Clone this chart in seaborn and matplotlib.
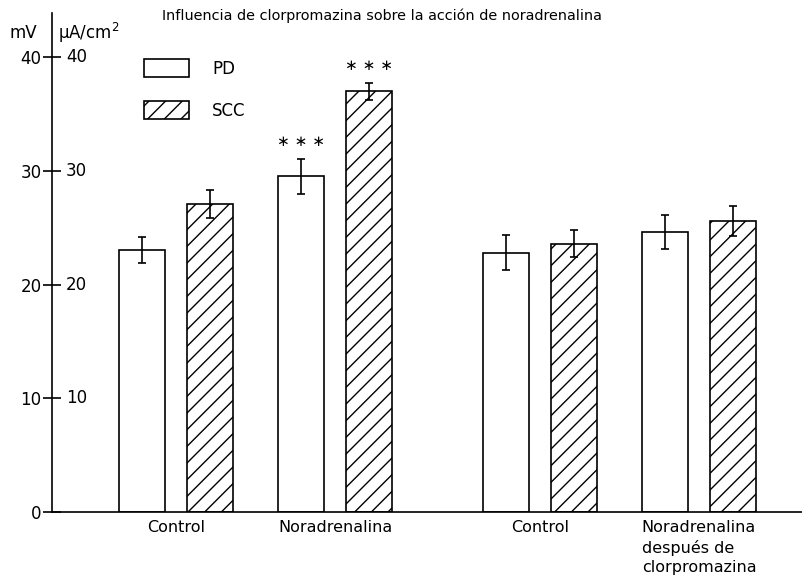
import matplotlib
matplotlib.use("Agg")
import matplotlib.pyplot as plt
import matplotlib.transforms as mtransforms
from matplotlib.patches import Patch
import pandas as pd
import seaborn as sns

sns.set_theme(style="ticks", rc={"text.color": "black", "xtick.color": "black",
                                 "ytick.color": "black", "axes.edgecolor": "black"})
plt.rcParams['font.family'] = ['DejaVu Sans']
plt.rcParams['hatch.linewidth'] = 1.0

# data
groups = ["Control", "Noradrenalina", "Control", "Noradrenalina\ndespués de\nclorpromazina"]
group_pos = [0, 1, 2.29, 3.29]
pd_mean = [23.0, 29.5, 22.8, 24.6]
pd_err = [1.15, 1.55, 1.55, 1.5]
scc_mean = [27.1, 37.0, 23.6, 25.6]
scc_err = [1.25, 0.75, 1.2, 1.3]
pd_sig = ["", "***", "", ""]
scc_sig = ["", "***", "", ""]
yticks = [0, 10, 20, 30, 40]
series = ["PD", "SCC"]

df = pd.DataFrame({
    "pos": group_pos * 2,
    "serie": [series[0]] * 4 + [series[1]] * 4,
    "valor": pd_mean + scc_mean,
})

fig = plt.figure(figsize=(8.03, 5.77), dpi=100)
ax = fig.add_axes([52 / 803, 65 / 577, 751 / 803, 499 / 577])

sns.barplot(data=df, x="pos", y="valor", hue="serie", native_scale=True,
            palette=["white", "white"], edgecolor="black", linewidth=1.2,
            width=0.86, gap=0.33, legend=False, errorbar=None, ax=ax)

# hatch the SCC bars, then error bars and stars on top of each bar
for i, (means, errs, sigs) in enumerate(zip([pd_mean, scc_mean], [pd_err, scc_err],
                                            [pd_sig, scc_sig])):
    cont = ax.containers[i]
    xs = [b.get_x() + b.get_width() / 2 for b in cont]
    if i == 1:
        for b in cont:
            b.set_hatch("//")
    ax.errorbar(xs, means, yerr=errs, fmt="none", ecolor="black",
                elinewidth=1.2, capsize=3, capthick=1.2)
    for x, m, e, s in zip(xs, means, errs, sigs):
        if s:
            ax.text(x, m + e + 1.5, " ".join(["\u2217"] * len(s)), ha="center",
                    va="center", fontsize=11, color="black")

ax.set_xlim(-0.78, 3.943)
ax.set_ylim(0, 43.87)
sns.despine(ax=ax)
for sp in ax.spines.values():
    sp.set_linewidth(1.2)

ax.set_xticks(group_pos)
ax.set_xticklabels(groups, fontsize=11.5, linespacing=1.35)
for lab in ax.get_xticklabels():
    lab.set_multialignment("left")
ax.tick_params(axis="x", length=0, pad=6)
ax.set_yticks(yticks)
ax.set_yticklabels([str(t) for t in yticks], fontsize=12)
ax.tick_params(axis="y", direction="inout", length=13, width=1.2, pad=1)
ax.set_xlabel("")
ax.set_ylabel("")

# second set of labels on the right side of the spine (µA/cm2 scale)
trans = ax.get_yaxis_transform() + mtransforms.ScaledTranslation(10 / 72, 0, fig.dpi_scale_trans)
for t in yticks[1:]:
    ax.text(0, t, str(t), transform=trans, ha="left", va="center", fontsize=12)

fig.text(10 / 803, 1 - 33 / 577, "mV", fontsize=12, va="center", ha="left")
fig.text(58 / 803, 1 - 33 / 577, "\u00b5A/cm$^2$", fontsize=12, va="center", ha="left")
fig.text(162 / 803, 1 - 16 / 577,
         "Influencia de clorpromazina sobre la acción de noradrenalina",
         fontsize=10.4, va="center", ha="left")

handles = [Patch(facecolor="white", edgecolor="black", linewidth=1.2),
           Patch(facecolor="white", edgecolor="black", linewidth=1.2, hatch="//")]
ax.legend(handles, series, loc="upper left", bbox_to_anchor=(144 / 803, 1 - 59 / 577),
          bbox_transform=fig.transFigure, frameon=False, fontsize=12,
          handlelength=2.7, handleheight=1.32, labelspacing=1.38,
          handletextpad=1.38, borderpad=0, borderaxespad=0)

fig.savefig("out.png", dpi=100, facecolor="white")
